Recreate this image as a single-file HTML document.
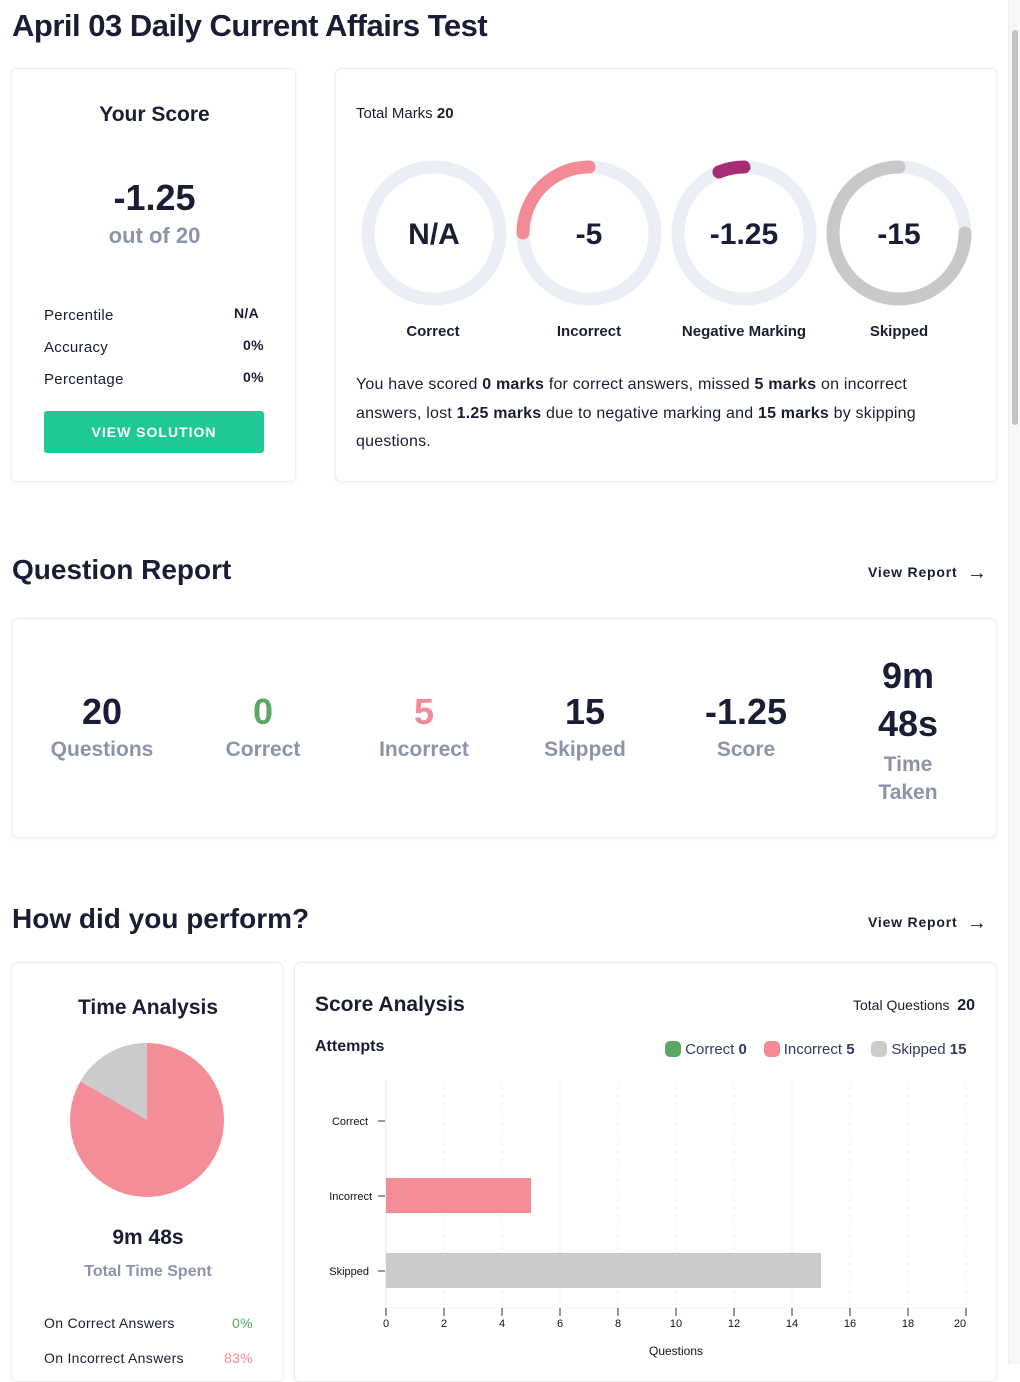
<!DOCTYPE html>
<html><head><meta charset="utf-8"><style>
*{box-sizing:border-box;margin:0;padding:0}
body{width:1020px;height:1364px;overflow:hidden;background:#fff;font-family:"Liberation Sans",sans-serif;color:#1a1d33;position:relative}
.abs{position:absolute}
.card{position:absolute;background:#fff;border:1px solid #eceef2;border-radius:6px;box-shadow:0 1px 4px rgba(0,0,0,0.06)}
.h1{font-size:31px;font-weight:bold;letter-spacing:-0.5px}
.h2{font-size:28px;font-weight:bold}
.link{font-size:14px;font-weight:bold;letter-spacing:0.8px}
.link span{font-size:20px;vertical-align:-2px;font-weight:normal}
.gray{color:#8c93ab}
.stat{position:absolute;text-align:center;width:140px}
.stat .n{font-size:36px;font-weight:bold;color:#1a1d33}
.stat .l{font-size:21px;font-weight:bold;color:#8c93ab;line-height:28px;margin-top:3px}
.row{position:absolute;font-size:15px;letter-spacing:0.3px}
</style></head><body>
<div class="abs h1" style="left:12px;top:8px">April 03 Daily Current Affairs Test</div>

<div class="card" style="left:11px;top:68px;width:285px;height:414px">
  <div class="abs" style="left:0;width:285px;top:34px;text-align:center;font-size:21px;font-weight:bold">Your Score</div>
  <div class="abs" style="left:0;width:285px;top:108px;text-align:center;font-size:36px;font-weight:bold">-1.25</div>
  <div class="abs gray" style="left:0;width:285px;top:154px;text-align:center;font-size:22px;font-weight:bold">out of 20</div>
  <div class="row" style="left:32px;top:238px">Percentile</div><div class="row" style="left:222px;top:236px;font-weight:bold;font-size:14px">N/A</div>
  <div class="row" style="left:32px;top:270px">Accuracy</div><div class="row" style="left:231px;top:268px;font-weight:bold;font-size:14px">0%</div>
  <div class="row" style="left:32px;top:302px">Percentage</div><div class="row" style="left:231px;top:300px;font-weight:bold;font-size:14px">0%</div>
  <div class="abs" style="left:32px;top:342px;width:220px;height:42px;background:#1ec995;border-radius:3px;color:#fff;font-weight:bold;font-size:14px;letter-spacing:1px;text-align:center;line-height:42px">VIEW SOLUTION</div>
</div>

<div class="card" style="left:335px;top:68px;width:662px;height:414px">
  <div class="abs" style="left:20px;top:36px;font-size:15px">Total Marks <b>20</b></div>
  <div class="abs" style="left:20px;top:302px;width:600px;font-size:16px;line-height:28.5px;letter-spacing:0.2px">You have scored <b>0 marks</b> for correct answers, missed <b>5 marks</b> on incorrect answers, lost <b>1.25 marks</b> due to negative marking and <b>15 marks</b> by skipping questions.</div>
</div>
<svg class="abs" style="left:0;top:0" width="1020" height="360">
  <g fill="none" stroke="#eceef6" stroke-width="13">
    <circle cx="434" cy="233" r="66"/><circle cx="589" cy="233" r="66"/><circle cx="744" cy="233" r="66"/><circle cx="899" cy="233" r="66"/>
  </g>
  <g fill="none" stroke-width="13" stroke-linecap="round">
    <path d="M589 167 A66 66 0 0 0 523 233" stroke="#f28b96"/>
    <path d="M744 167 A66 66 0 0 0 719 172" stroke="#a62d73"/>
    <path d="M899 167 A66 66 0 1 0 965 233" stroke="#c8c8ca"/>
  </g>
  <g font-family="Liberation Sans,sans-serif" font-weight="bold" font-size="30" text-anchor="middle" fill="#1a1d33">
    <text x="434" y="244">N/A</text><text x="589" y="244">-5</text><text x="744" y="244">-1.25</text><text x="899" y="244">-15</text>
  </g>
  <g font-family="Liberation Sans,sans-serif" font-weight="bold" font-size="15" text-anchor="middle" fill="#1a1d33">
    <text x="433" y="336">Correct</text><text x="589" y="336">Incorrect</text><text x="744" y="336">Negative Marking</text><text x="899" y="336">Skipped</text>
  </g>
</svg>

<div class="abs h2" style="left:12px;top:554px">Question Report</div>
<div class="abs link" style="left:868px;top:562px">View Report &nbsp;<span>→</span></div>
<div class="card" style="left:12px;top:618px;width:985px;height:220px">
  <div class="stat" style="left:19px;top:72px"><div class="n">20</div><div class="l">Questions</div></div>
  <div class="stat" style="left:180px;top:72px"><div class="n" style="color:#5ba763">0</div><div class="l">Correct</div></div>
  <div class="stat" style="left:341px;top:72px"><div class="n" style="color:#f28b96">5</div><div class="l">Incorrect</div></div>
  <div class="stat" style="left:502px;top:72px"><div class="n">15</div><div class="l">Skipped</div></div>
  <div class="stat" style="left:663px;top:72px"><div class="n">-1.25</div><div class="l">Score</div></div>
  <div class="stat" style="left:825px;top:33px"><div class="n" style="line-height:48px">9m<br>48s</div><div class="l">Time<br>Taken</div></div>
</div>

<div class="abs h2" style="left:12px;top:903px">How did you perform?</div>
<div class="abs link" style="left:868px;top:912px">View Report &nbsp;<span>→</span></div>

<div class="card" style="left:11px;top:962px;width:272px;height:420px">
  <div class="abs" style="left:0;width:272px;top:33px;text-align:center;font-size:21px;font-weight:bold">Time Analysis</div>
  <div class="abs" style="left:0;width:272px;top:263px;text-align:center;font-size:21px;font-weight:bold">9m 48s</div>
  <div class="abs gray" style="left:0;width:272px;top:300px;text-align:center;font-size:16px;font-weight:bold">Total Time Spent</div>
  <div class="row" style="left:32px;top:352px;font-size:14px">On Correct Answers</div><div class="row" style="left:220px;top:352px;font-size:14px;color:#5ba763">0%</div>
  <div class="row" style="left:32px;top:387px;font-size:14px">On Incorrect Answers</div><div class="row" style="left:212px;top:387px;font-size:14px;color:#f28b96">83%</div>
</div>
<svg class="abs" style="left:0;top:1000px" width="300" height="220">
  <circle cx="147" cy="120" r="77" fill="#f38d98"/>
  <path d="M147 120 L147 43 A77 77 0 0 0 80.3 81.5 Z" fill="#cbcbcb"/>
</svg>

<div class="card" style="left:294px;top:962px;width:703px;height:420px">
  <div class="abs" style="left:20px;top:30px;font-size:21px;font-weight:bold">Score Analysis</div>
  <div class="abs" style="left:558px;top:34px;font-size:14px">Total Questions &nbsp;<b style="font-size:16px">20</b></div>
  <div class="abs" style="left:20px;top:75px;font-size:16px;font-weight:bold">Attempts</div>
  <div class="abs" style="left:370px;top:78px;font-size:15px;color:#343a5e;white-space:nowrap">
    <span style="display:inline-block;width:16px;height:16px;border-radius:5px;background:#5ba763;vertical-align:-3px"></span> Correct <b>0</b>&nbsp;&nbsp;&nbsp;
    <span style="display:inline-block;width:16px;height:16px;border-radius:5px;background:#f28b96;vertical-align:-3px"></span> Incorrect <b>5</b>&nbsp;&nbsp;&nbsp;
    <span style="display:inline-block;width:16px;height:16px;border-radius:5px;background:#cccccc;vertical-align:-3px"></span> Skipped <b>15</b>
  </div>
</div>
<svg class="abs" style="left:0;top:1080px" width="1000" height="284" font-family="Liberation Sans,sans-serif">
  <g stroke="#ececec" stroke-dasharray="4,3">
    <line x1="444" y1="0" x2="444" y2="228"/><line x1="502" y1="0" x2="502" y2="228"/><line x1="560" y1="0" x2="560" y2="228"/><line x1="618" y1="0" x2="618" y2="228"/><line x1="676" y1="0" x2="676" y2="228"/><line x1="734" y1="0" x2="734" y2="228"/><line x1="792" y1="0" x2="792" y2="228"/><line x1="850" y1="0" x2="850" y2="228"/><line x1="908" y1="0" x2="908" y2="228"/><line x1="966" y1="0" x2="966" y2="228"/>
  </g>
  <line x1="386" y1="0" x2="386" y2="228" stroke="#e6e6ee"/>
  <line x1="386" y1="228" x2="966" y2="228" stroke="#f0f0f4"/>
  <rect x="386" y="98" width="145" height="35" fill="#f38d98"/>
  <rect x="386" y="173" width="435" height="35" fill="#cbcbcb"/>
  <g stroke="#333"><line x1="378" y1="41" x2="385" y2="41"/><line x1="378" y1="116" x2="385" y2="116"/><line x1="378" y1="191" x2="385" y2="191"/>
  <line x1="386" y1="228" x2="386" y2="236"/><line x1="444" y1="228" x2="444" y2="236"/><line x1="502" y1="228" x2="502" y2="236"/><line x1="560" y1="228" x2="560" y2="236"/><line x1="618" y1="228" x2="618" y2="236"/><line x1="676" y1="228" x2="676" y2="236"/><line x1="734" y1="228" x2="734" y2="236"/><line x1="792" y1="228" x2="792" y2="236"/><line x1="850" y1="228" x2="850" y2="236"/><line x1="908" y1="228" x2="908" y2="236"/><line x1="966" y1="228" x2="966" y2="236"/></g>
  <g font-size="11" fill="#111" text-anchor="end"><text x="368" y="45">Correct</text><text x="372" y="120">Incorrect</text><text x="369" y="195">Skipped</text></g>
  <g font-size="11" fill="#111" text-anchor="middle"><text x="386" y="247">0</text><text x="444" y="247">2</text><text x="502" y="247">4</text><text x="560" y="247">6</text><text x="618" y="247">8</text><text x="676" y="247">10</text><text x="734" y="247">12</text><text x="792" y="247">14</text><text x="850" y="247">16</text><text x="908" y="247">18</text><text x="960" y="247">20</text>
  <text x="676" y="275" font-size="12">Questions</text></g>
</svg>

<div class="abs" style="left:1008px;top:0;width:12px;height:1364px;background:#f7f7f7;border-left:1px solid #ededed"></div>
<div class="abs" style="left:1012px;top:30px;width:6px;height:395px;background:#c2c2c2;border-radius:3px"></div>
</body></html>
